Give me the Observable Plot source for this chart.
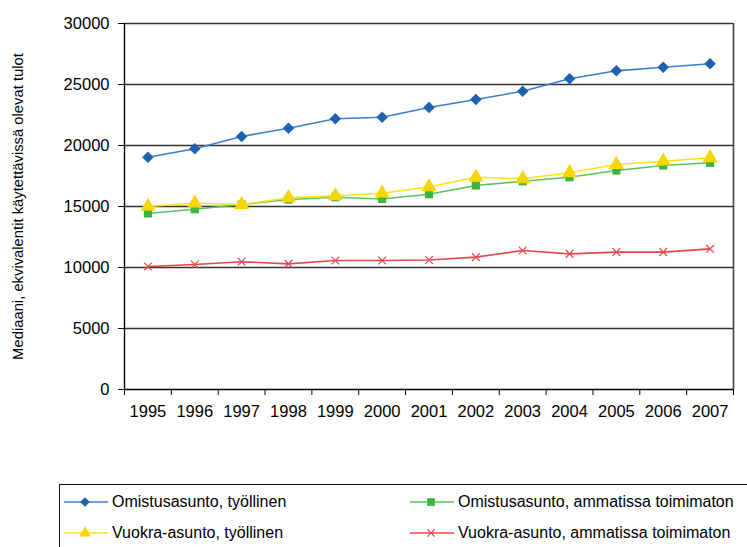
<!DOCTYPE html>
<html>
<head>
<meta charset="utf-8">
<script src="https://cdn.jsdelivr.net/npm/d3@7"></script>
<script src="https://cdn.jsdelivr.net/npm/@observablehq/plot@0.6"></script>
<style>
  html, body { margin: 0; padding: 0; background: #fff; }
  body { width: 747px; height: 547px; overflow: hidden; position: relative; font-family: "Liberation Sans", Arial, sans-serif; }
  #legend { position: absolute; left: 59px; top: 484px; width: 720px; height: 80px; border: 1px solid #111; box-sizing: border-box; }
  .item { position: absolute; display: flex; align-items: center; font-size: 16px; color: #000; white-space: nowrap; }
  .item svg { margin-right: 3px; }
</style>
</head>
<body>
<div id="chart"></div>
<div id="legend"></div>
<script>
const years = [1995, 1996, 1997, 1998, 1999, 2000, 2001, 2002, 2003, 2004, 2005, 2006, 2007];
const omistusTyollinen   = [19040, 19730, 20740, 21420, 22190, 22320, 23110, 23770, 24450, 25470, 26120, 26420, 26700];
const omistusToimimaton  = [14430, 14780, 15160, 15570, 15760, 15620, 16010, 16720, 17070, 17400, 17950, 18360, 18580];
const vuokraTyollinen    = [15000, 15270, 15160, 15710, 15870, 16090, 16610, 17400, 17270, 17760, 18440, 18710, 18990];
const vuokraToimimaton   = [10080, 10250, 10470, 10300, 10570, 10570, 10620, 10850, 11390, 11120, 11260, 11260, 11530];
const seriesNames = [
  "Omistusasunto, työllinen",
  "Omistusasunto, ammatissa toimimaton",
  "Vuokra-asunto, työllinen",
  "Vuokra-asunto, ammatissa toimimaton"
];
const yTicks = [0, 5000, 10000, 15000, 20000, 25000, 30000];
const yLabel = "Mediaani, ekvivalentit käytettävissä olevat tulot";

const styles = [
  {line: "#3d7fcc", fill: "#1c62b0", symbol: "diamond2", r: 5.2, stroked: false},
  {line: "#5cc25c", fill: "#3db53d", symbol: "square", r: 4.6, stroked: false},
  {line: "#ffe31a", fill: "#f7d600", symbol: "triangle", r: 5.6, stroked: false},
  {line: "#e8474a", fill: "#e8474a", symbol: "times", r: 3.6, stroked: true}
];
const values = [omistusTyollinen, omistusToimimaton, vuokraTyollinen, vuokraToimimaton];
const tables = values.map((vals, i) => years.map((yr, j) => ({year: yr, value: vals[j], series: seriesNames[i]})));
const boundaries = [years[0] - 0.5, ...years.map(y => y + 0.5)];

const marks = [
  Plot.ruleY(yTicks.filter(d => d > 0), {stroke: "#333", strokeWidth: 1.6}),
  Plot.ruleX([boundaries[boundaries.length - 1]], {stroke: "#444", strokeWidth: 1.6}),
  Plot.ruleX([boundaries[0]], {stroke: "#000", strokeWidth: 1.4}),
  Plot.ruleY([0], {stroke: "#000", strokeWidth: 1.4}),
  Plot.axisY({ticks: yTicks, tickSize: 6, tickPadding: 9, tickFormat: d => String(d), label: null, fontSize: 16.5, stroke: "#000"}),
  Plot.axisY({ticks: [], label: yLabel, labelAnchor: "center", labelArrow: "none", labelOffset: 112, fontSize: 14.8}),
  Plot.axisX({ticks: boundaries, tickSize: 6, tickFormat: () => "", label: null, stroke: "#000"}),
  Plot.axisX({ticks: years, tickSize: 0, tickPadding: 16, tickFormat: d => String(d), label: null, fontSize: 16.5})
];
tables.forEach((t, i) => {
  const s = styles[i];
  marks.push(Plot.lineY(t, {x: "year", y: "value", stroke: s.line, strokeWidth: 1.6}));
  marks.push(Plot.dot(t, s.stroked
    ? {x: "year", y: "value", symbol: () => s.symbol, r: s.r, stroke: s.fill, strokeWidth: 1.2}
    : {x: "year", y: "value", symbol: () => s.symbol, r: s.r, fill: s.fill, stroke: "none"}));
});

const chart = Plot.plot({
  width: 747,
  height: 432,
  marginTop: 23,
  marginRight: 14,
  marginBottom: 43,
  marginLeft: 124,
  style: {fontFamily: "'Liberation Sans', Arial, sans-serif", color: "#000", background: "#fff"},
  x: {type: "linear", domain: [boundaries[0], boundaries[boundaries.length - 1]]},
  y: {domain: [0, 30000]},
  symbol: {type: "identity"},
  marks
});
document.getElementById("chart").appendChild(chart);

// legend
const legend = document.getElementById("legend");
const pos = [{left: 3, top: 4}, {left: 349, top: 4}, {left: 3, top: 35}, {left: 349, top: 35}];
seriesNames.forEach((name, i) => {
  const s = styles[i];
  const div = document.createElement("div");
  div.className = "item";
  div.style.left = pos[i].left + "px";
  div.style.top = pos[i].top + "px";
  const sym = d3.symbol().type(
    s.symbol === "diamond2" ? d3.symbolDiamond2 :
    s.symbol === "square" ? d3.symbolSquare :
    s.symbol === "triangle" ? d3.symbolTriangle : d3.symbolTimes
  ).size(s.symbol === "times" ? 36 : 60)();
  div.innerHTML = `<svg width="46" height="26"><line x1="1" x2="45" y1="13" y2="13" stroke="${s.line}" stroke-width="1.6"/>` +
    `<path transform="translate(22,13)" d="${sym}" ${s.stroked ? `fill="none" stroke="${s.fill}" stroke-width="1.2"` : `fill="${s.fill}"`}/></svg>` +
    `<span>${name}</span>`;
  legend.appendChild(div);
});
</script>
</body>
</html>
